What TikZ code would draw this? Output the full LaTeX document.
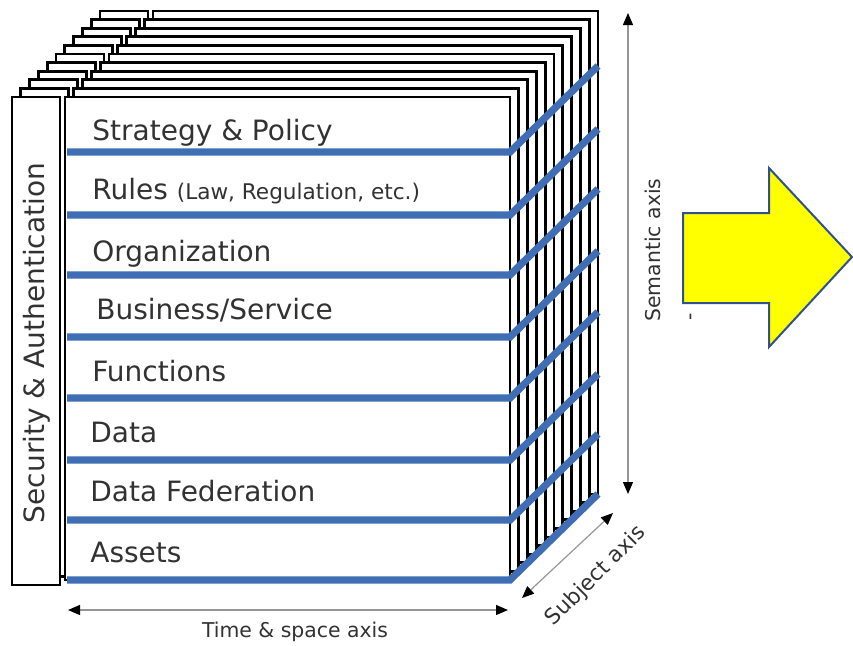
\documentclass[tikz,border=0pt]{standalone}
\usepackage{fontspec}
\setmainfont{DejaVu Sans}
\usetikzlibrary{arrows.meta}
\definecolor{layerblue}{RGB}{64,110,180}
\definecolor{labelgray}{RGB}{50,50,50}
\definecolor{axisgray}{RGB}{150,150,150}
\definecolor{arrowfill}{RGB}{255,255,0}
\definecolor{arrowedge}{RGB}{47,82,143}
\tikzset{
	slice/.style={draw=black, line width=1.4pt, fill=white},
	layerline/.style={draw=layerblue, line width=3.6pt},
	layertext/.style={anchor=base west, inner sep=0pt, text=labelgray, font=\fontsize{14}{16}\selectfont},
	axisline/.style={draw=axisgray, line width=0.6pt, {Triangle[length=6pt,width=5pt,color=black]}-{Triangle[length=6pt,width=5pt,color=black]}},
	axistext/.style={inner sep=0pt, text=labelgray, font=\fontsize{10.2}{12}\selectfont}
}
\begin{document}
\begin{tikzpicture}[x=0.5pt,y=-0.5pt]
	\useasboundingbox (0,0) rectangle (853,645);
	% Draw the slices from back to front
	\foreach \k in {10,9,...,0} {
		\draw[slice] ({12+8.8*\k},{97-8.6*\k}) rectangle ({60+8.8*\k},{585-8.6*\k});
		\draw[slice] ({65+8.8*\k},{97-8.6*\k}) rectangle ({510+8.8*\k},{580-8.6*\k});
	}
	% Draw the layer borders
	\foreach \y in {152,215,275,337,398,460,520,580}
		\draw[layerline] (67,\y) -- (510,\y) -- (598,{\y-86});
	% Add the layer labels
	\node[layertext] (strategy) at (92,140) {Strategy \& Policy};
	\node[layertext] (rules) at (92,199) {Rules {\fontsize{10.8}{12}\selectfont(Law, Regulation, etc.)}};
	\node[layertext] (organization) at (92,261) {Organization};
	\node[layertext] (business) at (96,319) {Business/Service};
	\node[layertext] (functions) at (92,381) {Functions};
	\node[layertext] (data) at (90,442) {Data};
	\node[layertext] (federation) at (90,501) {Data Federation};
	\node[layertext] (assets) at (90,562) {Assets};
	\node[layertext, anchor=center, rotate=90, font=\fontsize{14}{16}\selectfont] (security) at (37,343) {Security \& Authentication};
	% Define the axis ends
	\coordinate (semtop) at (628,13);
	\coordinate (sembot) at (628,494);
	\coordinate (timeleft) at (68,610);
	\coordinate (timeright) at (508,610);
	\coordinate (subjfront) at (522,598);
	\coordinate (subjback) at (613,513);
	% Draw the axes
	\draw[axisline] (semtop) -- (sembot);
	\draw[axisline] (timeleft) -- (timeright);
	\draw[axisline] (subjfront) -- (subjback);
	\node[axistext, rotate=90] (semantic) at (653,250) {Semantic axis};
	\node[axistext, rotate=90] (dash) at (693,317) {-};
	\node[axistext] (timespace) at (295,632) {Time \& space axis};
	\node[axistext, rotate=45, font=\fontsize{10.8}{12}\selectfont] (subject) at (596,576) {Subject axis};
	% Draw the big arrow
	\draw[fill=arrowfill, draw=arrowedge, line width=1pt] (683,213) -- (769,213) -- (769,168) -- (852,257) -- (769,347) -- (769,303) -- (683,303) -- cycle;
\end{tikzpicture}
\end{document}
